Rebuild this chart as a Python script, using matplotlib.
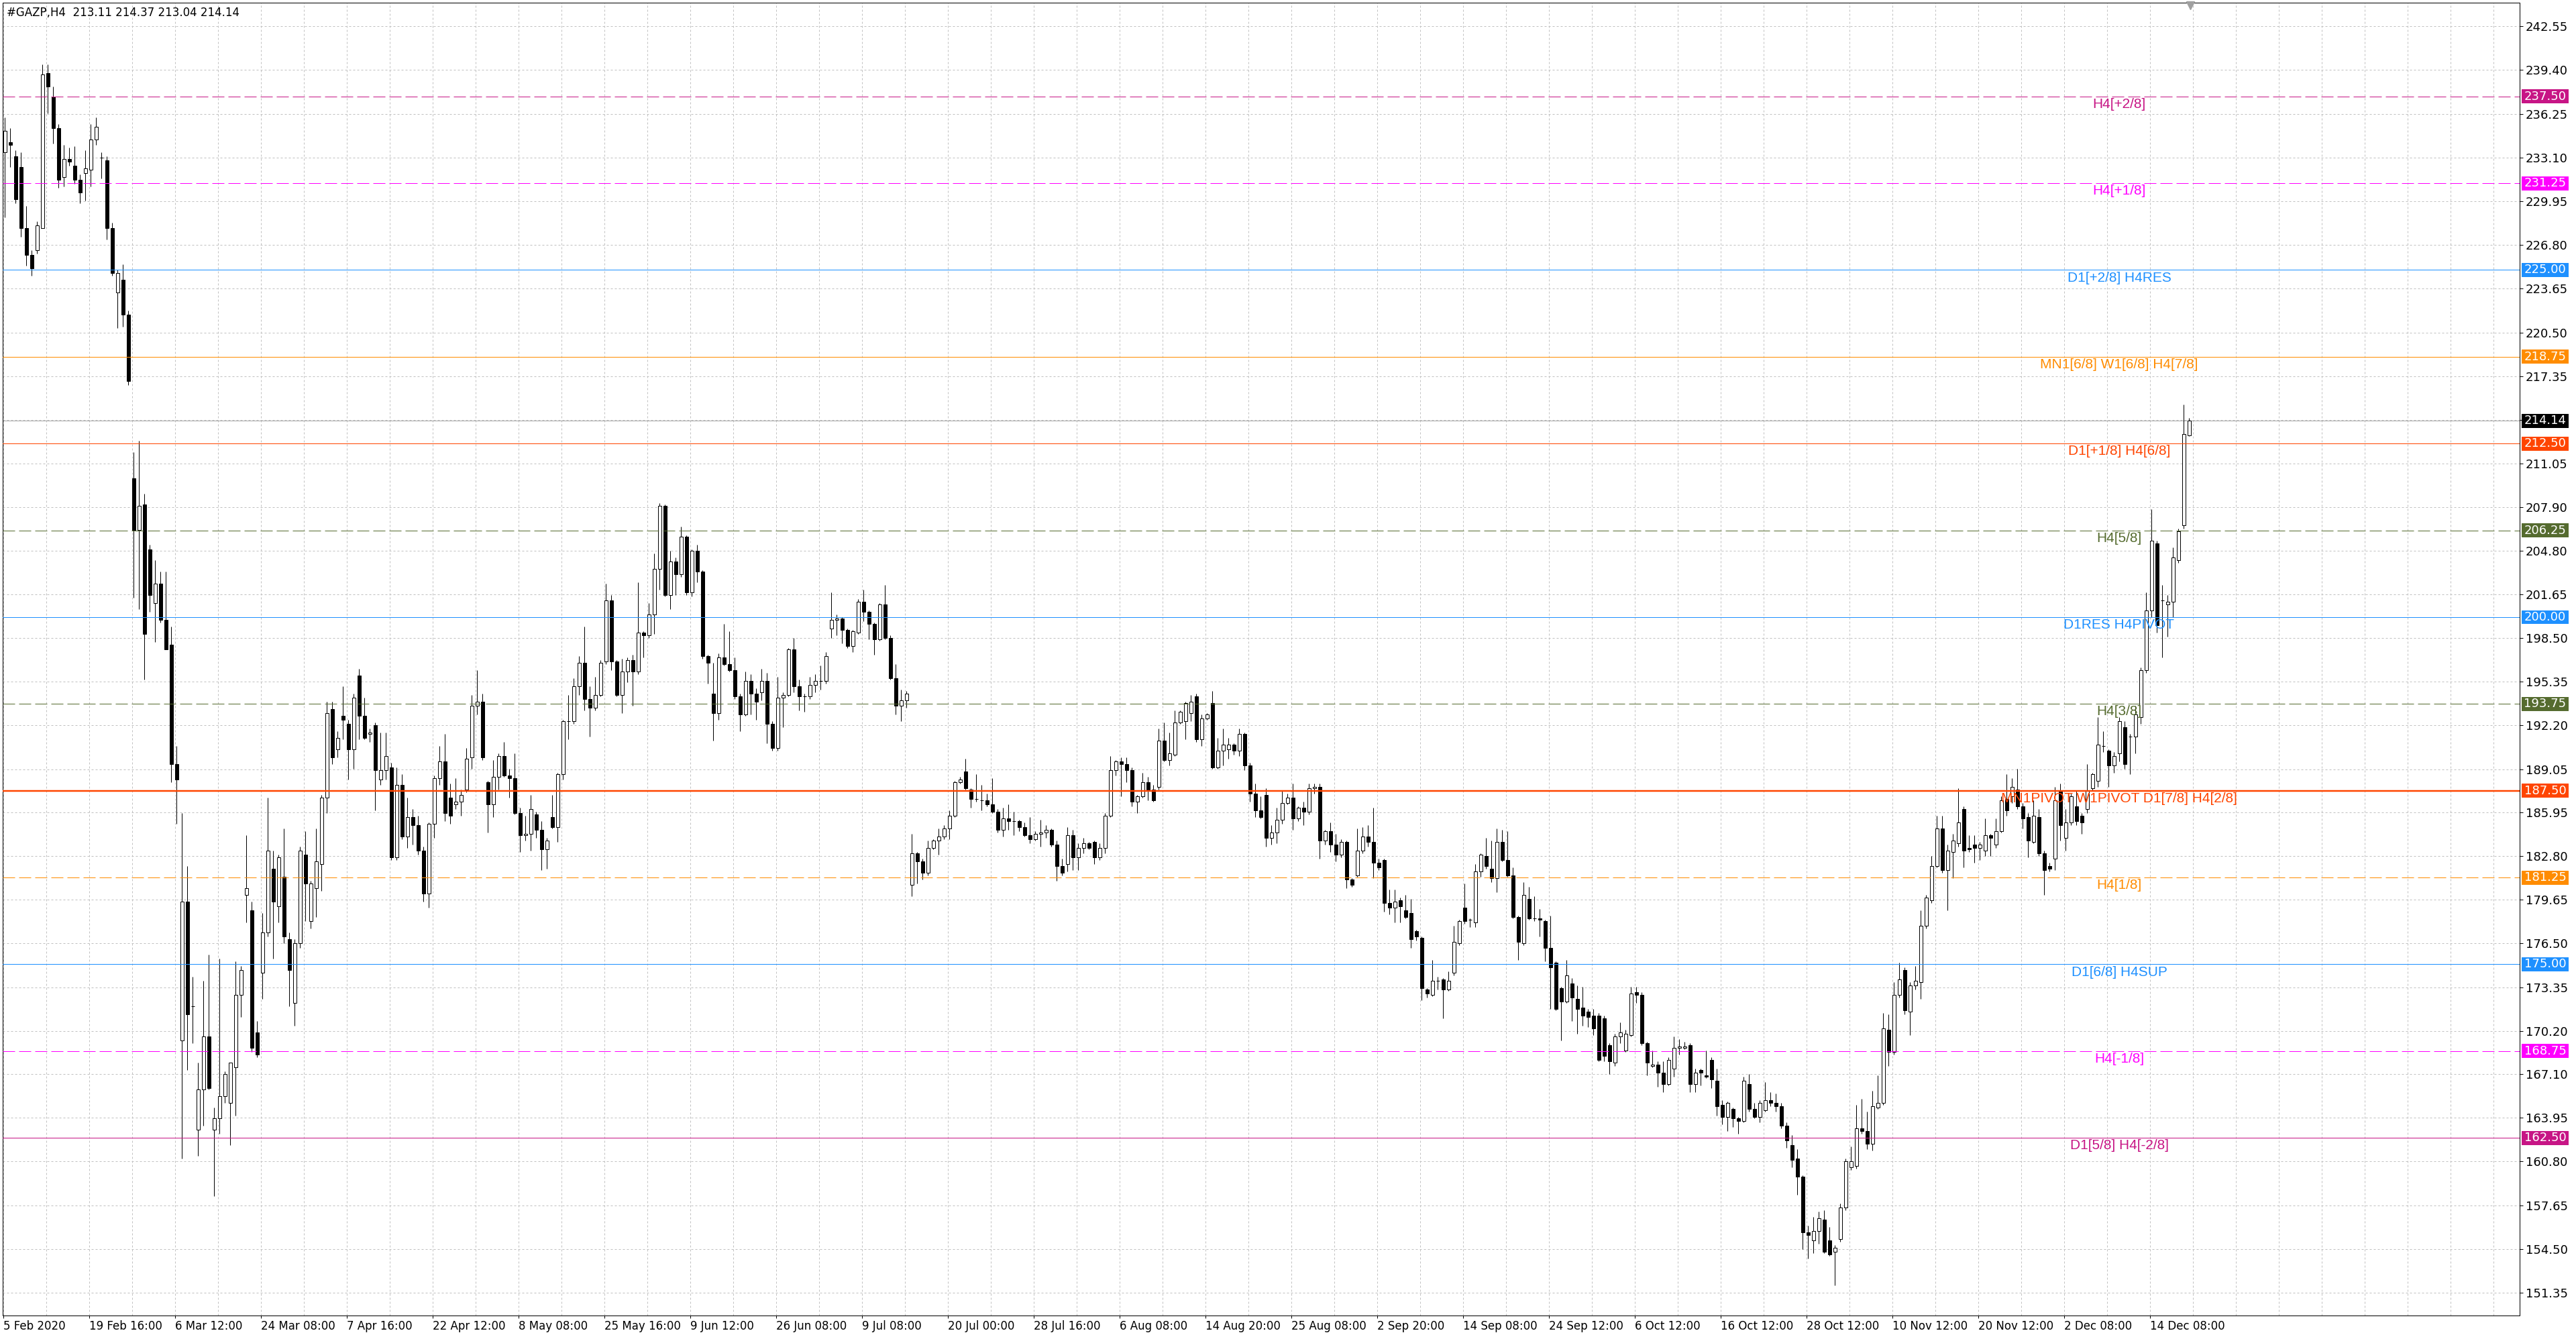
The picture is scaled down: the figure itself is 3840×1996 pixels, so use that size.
import numpy as np
import matplotlib
matplotlib.use("Agg")
import matplotlib.pyplot as plt
from matplotlib import transforms
from matplotlib.patches import Rectangle

# #GAZP H4, 5 Feb 2020 - 18 Dec 2020
# every candle below joins two H4 bars
opens = [
    233.5, 234.2, 233.2, 232.4, 228.0, 226.1, 226.4, 228.0, 239.2, 237.5,
    235.2, 231.7, 233.0, 232.5, 231.5, 232.0, 232.2, 234.4, 233.1, 232.9,
    228.0, 223.4, 224.3, 221.8, 210.0, 206.3, 208.1, 204.9, 201.0, 202.4,
    199.8, 198.0, 189.4, 169.5, 179.5, 172.0, 163.1, 166.0, 169.8, 163.1,
    163.9, 165.5, 165.0, 167.6, 172.8, 180.0, 178.9, 170.1, 174.4, 177.3,
    181.9, 179.2, 181.3, 176.8, 172.2, 176.5, 182.9, 178.1, 180.5, 182.2,
    187.0, 193.4, 190.5, 192.9, 192.3, 190.5, 195.8, 192.9, 191.6, 192.2,
    188.3, 189.0, 189.2, 182.7, 187.9, 184.2, 185.6, 185.0, 183.2, 180.1,
    185.1, 188.4, 189.6, 187.0, 186.5, 186.7, 187.6, 189.9, 193.6, 193.9,
    188.1, 186.5, 188.5, 190.0, 188.6, 188.4, 185.9, 184.3, 184.4, 185.8,
    184.7, 183.3, 185.6, 184.9, 188.7, 192.5, 192.5, 195.0, 196.7, 194.1,
    193.5, 194.4, 196.8, 201.2, 196.8, 194.4, 196.1, 196.9, 196.1, 198.9,
    198.7, 200.2, 203.5, 208.0, 201.6, 204.0, 203.1, 205.8, 201.8, 204.8,
    203.3, 197.2, 194.5, 193.1, 197.1, 196.6, 196.2, 194.3, 193.0, 195.4,
    194.5, 194.6, 195.4, 192.3, 190.6, 194.2, 194.4, 197.7, 195.0, 194.3,
    194.3, 195.1, 195.4, 195.4, 199.2, 199.8, 199.9, 199.1, 197.9, 198.9,
    201.1, 200.4, 199.5, 198.4, 200.9, 198.5, 195.6, 193.6, 194.0, 180.7,
    183.0, 182.4, 181.6, 183.4, 183.9, 184.2, 184.8, 185.7, 188.1, 188.9,
    187.6, 186.9, 186.8, 186.8, 186.5, 186.0, 184.7, 185.5, 185.3, 185.3,
    184.9, 184.3, 184.0, 184.4, 184.5, 184.7, 183.6, 182.1, 182.2, 184.3,
    182.7, 183.4, 183.7, 183.8, 182.7, 183.4, 185.7, 189.0, 189.6, 189.4,
    189.0, 186.7, 187.1, 188.1, 187.6, 187.8, 191.1, 189.7, 190.1, 192.4,
    192.5, 193.1, 194.3, 191.2, 192.7, 193.8, 189.2, 190.4, 190.5, 190.8,
    190.4, 191.6, 189.3, 187.3, 186.1, 187.2, 184.1, 184.5, 185.4, 186.6,
    187.0, 185.5, 186.3, 186.0, 187.7, 187.8, 183.9, 184.6, 183.6, 182.9,
    183.8, 181.1, 181.4, 183.2, 184.2, 183.8, 182.3, 182.5, 179.4, 179.1,
    179.6, 178.9, 178.7, 177.4, 176.9, 173.2, 172.8, 173.8, 173.9, 173.2,
    174.4, 176.5, 179.1, 178.2, 178.0, 181.7, 182.8, 181.9, 181.2, 183.8,
    182.5, 181.4, 178.4, 176.5, 179.7, 178.3, 178.3, 178.1, 176.2, 175.1,
    173.3, 172.3, 173.6, 172.5, 171.9, 171.6, 171.3, 171.3, 171.1, 169.2,
    167.9, 169.8, 168.8, 169.9, 173.0, 172.8, 169.3, 167.7, 167.8, 167.2,
    166.4, 167.5, 169.0, 169.0, 169.2, 166.4, 167.4, 167.0, 168.1, 166.6,
    164.9, 164.0, 164.6, 163.9, 163.7, 166.4, 164.6, 164.0, 164.5, 165.2,
    165.0, 164.8, 163.4, 162.0, 161.0, 159.7, 155.7, 155.1, 155.8, 156.6,
    155.1, 154.3, 155.2, 157.5, 160.4, 160.5, 163.2, 163.0, 162.1, 164.7,
    165.0, 170.3, 168.7, 172.8, 174.6, 171.6, 173.5, 173.7, 177.8, 179.6,
    182.1, 184.8, 181.8, 183.1, 183.7, 186.2, 183.4, 183.6, 183.4, 183.2,
    184.3, 183.6, 184.6, 186.9, 187.1, 187.6, 186.4, 185.6, 183.8, 185.6,
    183.0, 182.1, 182.6, 187.5, 184.1, 185.2, 186.4, 185.7, 186.2, 187.7,
    188.2, 190.7, 190.4, 189.3, 190.2, 192.1, 191.4, 191.4, 192.8, 196.2,
    200.5, 205.3, 201.2, 200.9, 201.1, 204.1, 206.6, 213.11,
]
highs = [
    236.0, 235.2, 233.6, 233.5, 229.6, 226.4, 228.5, 239.8, 239.8, 238.2,
    235.5, 234.0, 233.8, 233.9, 231.9, 233.6, 235.5, 236.0, 233.5, 233.2,
    228.4, 225.0, 225.4, 222.1, 211.9, 212.7, 208.9, 205.2, 204.1, 203.3,
    203.3, 199.3, 190.7, 185.9, 182.1, 174.1, 167.9, 173.8, 175.7, 164.7,
    175.4, 167.3, 167.9, 175.2, 174.9, 184.3, 179.5, 170.9, 178.7, 187.0,
    183.2, 182.9, 184.8, 177.3, 176.8, 183.5, 184.6, 181.0, 184.8, 187.2,
    193.9, 193.9, 191.8, 195.0, 192.6, 194.5, 196.3, 194.2, 192.0, 192.4,
    191.7, 191.7, 189.5, 189.2, 188.7, 187.0, 186.2, 185.7, 183.5, 185.2,
    188.6, 190.7, 191.6, 188.0, 188.4, 187.6, 190.6, 194.4, 196.2, 194.5,
    188.2, 189.7, 190.2, 191.0, 189.1, 190.2, 186.3, 185.7, 187.2, 186.0,
    185.3, 184.1, 187.2, 188.8, 192.6, 194.4, 195.6, 197.2, 199.3, 195.0,
    195.7, 196.9, 202.4, 201.6, 196.9, 197.0, 197.1, 197.3, 202.5, 199.0,
    201.0, 204.6, 208.2, 208.1, 204.8, 204.3, 206.5, 205.9, 204.9, 205.2,
    203.4, 197.3, 196.7, 197.4, 199.5, 199.0, 197.1, 194.5, 196.1, 195.9,
    194.9, 196.3, 196.0, 192.5, 195.7, 194.6, 197.8, 198.5, 195.5, 194.5,
    195.7, 195.9, 196.5, 197.5, 201.8, 200.2, 200.0, 199.2, 199.1, 201.3,
    202.0, 200.5, 199.6, 201.0, 202.3, 198.7, 196.6, 194.8, 194.7, 184.4,
    183.1, 182.6, 183.9, 184.0, 184.8, 185.0, 186.1, 188.2, 188.5, 189.8,
    187.7, 188.7, 187.9, 187.3, 188.4, 186.2, 186.3, 186.5, 186.0, 185.4,
    185.2, 185.6, 184.6, 185.4, 185.0, 184.8, 183.9, 182.6, 184.9, 184.7,
    183.7, 184.1, 183.8, 183.9, 183.7, 185.9, 190.0, 189.7, 189.9, 189.9,
    189.2, 187.2, 188.8, 188.5, 187.9, 192.0, 192.4, 191.7, 193.3, 193.3,
    193.9, 194.4, 194.5, 193.0, 193.1, 194.7, 191.3, 192.0, 191.3, 190.9,
    192.0, 191.7, 189.5, 188.0, 187.1, 187.7, 185.0, 186.3, 187.5, 187.3,
    188.0, 186.4, 186.7, 188.0, 188.0, 188.0, 184.7, 185.2, 184.4, 184.0,
    183.9, 181.2, 184.8, 184.9, 185.0, 186.3, 182.6, 182.6, 180.4, 180.4,
    179.8, 180.0, 179.7, 177.5, 177.0, 173.3, 175.3, 174.1, 174.0, 174.5,
    177.8, 178.2, 180.8, 178.3, 182.2, 183.0, 184.1, 183.9, 184.8, 184.7,
    184.6, 182.0, 178.5, 180.9, 180.6, 179.9, 179.0, 178.2, 178.5, 175.2,
    173.4, 175.3, 174.0, 173.5, 173.4, 171.8, 171.8, 171.5, 171.3, 169.3,
    170.0, 170.8, 170.3, 173.4, 173.4, 173.0, 169.4, 168.8, 168.0, 168.0,
    168.3, 169.8, 169.6, 169.4, 169.3, 167.5, 167.5, 168.8, 168.3, 167.5,
    165.2, 165.1, 164.7, 164.0, 166.9, 167.1, 165.0, 165.2, 166.5, 165.8,
    165.7, 165.0, 163.6, 162.7, 161.7, 159.8, 156.2, 156.8, 157.2, 157.3,
    156.1, 154.8, 157.8, 161.0, 161.9, 164.9, 165.3, 164.4, 165.9, 167.0,
    171.5, 171.4, 173.7, 175.1, 174.8, 173.7, 174.9, 178.9, 180.0, 182.8,
    185.7, 185.7, 183.6, 184.4, 187.7, 186.4, 184.3, 184.3, 183.8, 185.5,
    184.4, 185.5, 187.1, 188.7, 188.4, 189.1, 186.6, 185.9, 186.8, 186.2,
    183.2, 182.3, 187.8, 188.0, 186.2, 187.3, 187.5, 185.9, 189.4, 188.8,
    192.8, 191.8, 190.5, 190.3, 192.8, 192.5, 191.6, 193.6, 196.4, 201.8,
    207.8, 205.5, 202.3, 201.6, 205.0, 206.4, 215.3, 214.37,
]
lows = [
    228.8, 232.4, 229.8, 227.4, 225.3, 224.6, 226.2, 228.0, 236.3, 234.1,
    230.9, 231.0, 232.5, 231.2, 229.8, 230.0, 231.0, 234.0, 231.6, 227.2,
    224.6, 220.8, 220.9, 216.7, 201.4, 200.6, 195.5, 200.4, 198.2, 199.6,
    197.7, 188.1, 185.1, 161.0, 167.4, 169.3, 161.2, 163.4, 166.0, 158.3,
    162.8, 165.0, 162.0, 164.1, 171.2, 178.0, 168.7, 168.3, 172.5, 177.0,
    175.4, 178.0, 176.5, 172.0, 170.6, 176.2, 178.1, 177.6, 178.4, 180.3,
    185.9, 189.4, 189.9, 191.2, 188.3, 189.1, 191.2, 191.2, 191.0, 186.1,
    187.9, 188.3, 182.5, 182.5, 184.0, 183.4, 183.6, 182.9, 179.5, 179.1,
    184.1, 187.9, 185.3, 185.1, 186.2, 185.7, 187.4, 189.1, 193.0, 189.7,
    184.5, 185.6, 187.6, 188.5, 187.0, 185.8, 183.1, 183.9, 183.2, 184.1,
    181.8, 181.9, 184.8, 183.8, 188.3, 191.2, 192.3, 194.4, 193.3, 191.4,
    193.3, 194.3, 196.6, 196.2, 194.3, 193.1, 195.3, 193.6, 195.9, 197.1,
    198.5, 198.8, 202.0, 201.5, 200.6, 201.6, 202.9, 201.6, 201.5, 202.5,
    197.0, 195.2, 191.1, 192.6, 196.5, 196.1, 194.1, 191.8, 192.9, 193.0,
    192.6, 194.0, 190.9, 190.4, 190.4, 192.1, 194.3, 194.6, 193.3, 193.2,
    194.1, 194.6, 194.8, 195.2, 198.5, 198.7, 198.1, 197.8, 197.5, 198.8,
    199.7, 198.4, 197.3, 198.3, 198.4, 195.5, 193.0, 192.5, 193.5, 179.9,
    180.8, 181.1, 181.4, 183.3, 182.9, 184.0, 184.0, 185.6, 188.0, 187.6,
    186.3, 186.7, 186.1, 186.4, 185.9, 184.5, 184.2, 184.7, 184.3, 184.6,
    184.2, 183.7, 183.9, 183.5, 184.1, 183.5, 181.0, 181.4, 181.7, 181.8,
    181.8, 183.0, 183.3, 182.2, 182.5, 183.0, 185.6, 188.6, 187.1, 188.1,
    186.4, 185.9, 187.0, 186.8, 186.7, 187.6, 189.6, 189.3, 190.0, 192.3,
    191.2, 192.5, 191.0, 190.7, 192.6, 189.1, 189.1, 189.3, 189.8, 190.1,
    190.0, 189.0, 186.7, 185.6, 185.5, 183.5, 183.6, 183.7, 185.1, 186.5,
    184.7, 185.3, 185.0, 185.8, 187.3, 182.6, 183.6, 183.1, 182.4, 182.7,
    180.5, 180.6, 181.3, 183.0, 183.5, 181.2, 181.8, 178.8, 178.6, 178.0,
    178.0, 178.3, 176.2, 176.7, 172.4, 172.6, 172.7, 173.2, 171.1, 173.1,
    174.2, 176.4, 177.9, 177.7, 177.7, 181.3, 181.9, 180.9, 180.2, 182.4,
    181.3, 178.3, 175.3, 176.4, 178.2, 178.1, 177.0, 175.2, 171.8, 171.7,
    169.5, 172.2, 170.9, 170.0, 170.6, 170.5, 169.9, 168.0, 168.0, 167.1,
    167.7, 169.3, 168.7, 169.8, 172.2, 169.2, 167.0, 167.6, 166.2, 165.8,
    166.3, 166.9, 168.5, 168.9, 165.8, 165.8, 166.3, 166.8, 166.1, 164.1,
    163.5, 163.0, 163.3, 162.8, 163.6, 164.4, 163.9, 163.6, 164.4, 164.8,
    164.4, 163.2, 161.8, 160.4, 158.4, 154.5, 153.8, 154.2, 154.9, 154.2,
    154.0, 151.9, 155.0, 157.3, 160.2, 160.3, 162.8, 161.7, 161.6, 164.6,
    164.9, 167.7, 168.5, 172.6, 171.4, 169.9, 173.2, 172.5, 177.6, 179.4,
    182.0, 181.6, 178.9, 181.2, 183.5, 182.0, 183.1, 182.3, 182.5, 182.8,
    182.8, 183.4, 184.5, 185.7, 186.6, 186.2, 184.8, 182.7, 183.7, 182.8,
    180.0, 181.7, 181.8, 183.9, 183.2, 185.0, 185.0, 184.4, 185.9, 187.5,
    187.8, 190.3, 187.8, 188.8, 189.6, 189.1, 188.7, 190.2, 192.3, 196.0,
    200.0, 198.9, 197.1, 198.6, 200.0, 203.9, 206.4, 213.04,
]
closes = [
    235.0, 234.0, 230.1, 228.0, 226.1, 225.1, 228.2, 239.1, 238.2, 235.2,
    231.5, 233.0, 232.8, 231.5, 230.6, 232.3, 234.4, 235.3, 233.1, 228.0,
    224.8, 224.8, 221.8, 217.0, 206.3, 208.0, 198.8, 201.6, 202.4, 199.8,
    197.7, 189.4, 188.3, 179.5, 171.4, 172.0, 166.0, 169.8, 166.1, 163.9,
    165.5, 167.1, 167.9, 172.8, 174.6, 180.5, 169.0, 168.5, 177.3, 183.2,
    179.5, 182.7, 177.0, 174.6, 176.5, 183.2, 180.8, 180.8, 182.4, 187.0,
    193.1, 189.9, 191.3, 192.6, 190.5, 194.2, 192.9, 191.3, 191.7, 189.0,
    189.0, 190.0, 182.7, 187.9, 184.2, 185.6, 185.0, 183.2, 180.1, 185.1,
    188.4, 189.6, 185.9, 185.7, 186.7, 187.2, 189.8, 193.6, 193.9, 189.9,
    186.5, 188.5, 190.0, 188.6, 188.4, 185.9, 184.3, 184.4, 186.2, 184.7,
    183.3, 183.9, 184.9, 188.7, 192.5, 192.5, 195.0, 196.7, 194.1, 193.5,
    194.4, 196.7, 201.2, 196.8, 194.4, 196.1, 196.9, 196.1, 198.9, 198.7,
    200.2, 203.5, 208.0, 201.6, 204.0, 203.1, 205.8, 201.8, 204.8, 203.3,
    197.2, 196.7, 193.1, 197.1, 196.6, 196.2, 194.3, 193.0, 195.4, 194.5,
    193.9, 195.4, 192.3, 190.6, 194.2, 194.4, 197.7, 195.0, 194.3, 194.3,
    195.1, 195.4, 195.4, 197.2, 199.8, 199.9, 199.1, 197.9, 199.0, 201.1,
    200.4, 199.5, 198.4, 200.9, 198.5, 195.6, 193.6, 194.0, 194.5, 183.0,
    182.4, 181.6, 183.4, 183.9, 184.2, 184.8, 185.7, 188.1, 188.3, 187.7,
    186.9, 186.9, 186.8, 186.5, 186.0, 184.7, 185.5, 185.3, 185.3, 184.9,
    184.3, 184.0, 184.4, 184.5, 184.7, 183.6, 182.1, 181.6, 184.3, 182.7,
    183.4, 183.7, 183.4, 182.7, 183.4, 185.7, 189.0, 189.6, 189.4, 189.0,
    186.7, 187.1, 188.1, 187.6, 186.8, 191.1, 189.7, 190.2, 192.4, 193.2,
    193.8, 193.9, 191.2, 192.7, 193.0, 189.2, 190.4, 190.8, 190.8, 190.4,
    191.6, 189.3, 187.3, 186.1, 185.6, 184.1, 184.5, 185.4, 186.6, 187.0,
    185.5, 186.3, 186.0, 187.7, 187.8, 183.9, 184.6, 183.6, 182.9, 183.8,
    181.1, 180.7, 183.2, 184.2, 183.8, 182.3, 182.0, 179.4, 179.1, 179.5,
    179.2, 178.4, 176.8, 177.0, 173.3, 172.9, 173.8, 173.8, 173.2, 173.8,
    176.6, 178.1, 178.1, 178.2, 181.7, 182.9, 182.1, 181.2, 183.8, 182.5,
    181.4, 178.4, 176.6, 180.0, 178.3, 178.3, 178.2, 176.2, 174.8, 171.8,
    172.3, 174.2, 172.6, 171.8, 171.3, 171.2, 170.4, 168.1, 168.4, 168.0,
    169.8, 170.1, 170.0, 172.9, 172.8, 169.3, 167.9, 167.8, 167.2, 166.4,
    168.1, 169.0, 169.1, 169.1, 166.4, 167.2, 167.2, 166.9, 166.7, 164.8,
    164.0, 165.0, 163.9, 163.7, 166.6, 164.6, 164.0, 165.0, 165.2, 165.0,
    164.8, 163.4, 162.3, 160.9, 159.7, 155.7, 155.5, 155.8, 156.7, 154.3,
    154.1, 154.6, 157.5, 160.8, 160.8, 163.2, 163.0, 162.1, 164.8, 165.0,
    170.4, 168.7, 172.8, 173.9, 171.7, 173.5, 173.8, 177.8, 179.8, 182.1,
    184.8, 181.8, 183.2, 183.9, 185.2, 183.2, 183.3, 183.4, 183.6, 184.3,
    184.1, 184.6, 186.8, 186.1, 187.8, 186.4, 185.5, 183.9, 185.7, 183.0,
    181.8, 181.9, 186.8, 185.0, 185.2, 187.1, 185.3, 185.2, 187.5, 188.7,
    190.8, 190.7, 189.3, 190.0, 192.5, 189.4, 191.4, 193.0, 196.2, 200.5,
    205.5, 199.4, 201.2, 201.1, 204.3, 206.2, 213.2, 214.14,
]

# time axis: one label every 32 H4 bars
time_labels = [
    "5 Feb 2020", "19 Feb 16:00", "6 Mar 12:00", "24 Mar 08:00", "7 Apr 16:00",
    "22 Apr 12:00", "8 May 08:00", "25 May 16:00", "9 Jun 12:00", "26 Jun 08:00",
    "9 Jul 08:00", "20 Jul 00:00", "28 Jul 16:00", "6 Aug 08:00", "14 Aug 20:00",
    "25 Aug 08:00", "2 Sep 20:00", "14 Sep 08:00", "24 Sep 12:00", "6 Oct 12:00",
    "16 Oct 12:00", "28 Oct 12:00", "10 Nov 12:00", "20 Nov 12:00", "2 Dec 08:00",
    "14 Dec 08:00",
]
price_ticks = [
    242.55, 239.40, 236.25, 233.10, 229.95, 226.80, 223.65, 220.50, 217.35, 214.20,
    211.05, 207.90, 204.80, 201.65, 198.50, 195.35, 192.20, 189.05, 185.95, 182.80,
    179.65, 176.50, 173.35, 170.20, 167.10, 163.95, 160.80, 157.65, 154.50, 151.35,
]

# Murrey / pivot levels drawn on the chart
level_prices = [237.50, 231.25, 225.00, 218.75, 212.50, 206.25, 200.00,
                193.75, 187.50, 181.25, 175.00, 168.75, 162.50]
level_names = ["H4[+2/8]", "H4[+1/8]", "D1[+2/8] H4RES", "MN1[6/8] W1[6/8] H4[7/8]",
               "D1[+1/8] H4[6/8]", "H4[5/8]", "D1RES H4PIVOT", "H4[3/8]",
               "MN1PIVOT W1PIVOT D1[7/8] H4[2/8]", "H4[1/8]", "D1[6/8] H4SUP",
               "H4[-1/8]", "D1[5/8] H4[-2/8]"]
level_colors = ["#C71585", "#FF00FF", "#1E90FF", "#FF8C00", "#FF4500", "#556B2F", "#1E90FF",
                "#556B2F", "#FF4500", "#FF8C00", "#1E90FF", "#FF00FF", "#C71585"]
level_dashed = [True, True, False, False, False, True, False,
                True, False, True, False, True, False]
last_price = 214.14
header = "#GAZP,H4  213.11 214.37 213.04 214.14"

PX = 0.72  # one screen pixel in points (dpi 100)

o = np.array(opens)
h = np.array(highs)
l = np.array(lows)
c = np.array(closes)
x = np.arange(len(o)) * 2 + 0.5   # position in H4 bars

fig = plt.figure(figsize=(38.4, 19.96), dpi=100)
fig.patch.set_facecolor("white")
ax = fig.add_axes([4 / 3840, 35 / 1996, 3752 / 3840, 1957 / 1996])
ax.set_xlim(-0.25, 937.75)
ax.set_ylim(149.71, 244.25)
ax.set_axisbelow(True)

# grid
for gx in np.arange(0, 938, 16):
    ax.axvline(gx, color="#c0c0c0", lw=PX, ls=(0, (3, 3)), zorder=0.5)
for gy in price_ticks:
    ax.axhline(gy, color="#c0c0c0", lw=PX, ls=(0, (3, 3)), zorder=0.5)

# candles
up = c >= o
ax.vlines(x, l, h, color="black", lw=PX, zorder=2)
ax.bar(x[up], (c - o)[up], bottom=o[up], width=1.25, color="white",
       edgecolor="black", linewidth=PX, zorder=3)
ax.bar(x[~up], (o - c)[~up], bottom=c[~up], width=1.25, color="black",
       edgecolor="black", linewidth=PX, zorder=3)

# levels
right = transforms.blended_transform_factory(ax.transAxes, ax.transData)
for p, name, col, dashed in zip(level_prices, level_names, level_colors, level_dashed):
    lw = 2.5 * PX if p == 187.50 else PX
    ax.axhline(p, color=col, lw=lw, ls=(0, (18, 6)) if dashed else "-", zorder=4)
    ax.annotate(name, xy=(788.5, p), xytext=(0, -1.5), textcoords="offset points",
                ha="center", va="top", color=col, fontsize=15,
                family=["Liberation Sans", "DejaVu Sans"], zorder=5)
    ax.add_patch(Rectangle((1 + 3 / 3752, p - 0.505), 70 / 3752, 1.01, transform=right,
                           facecolor=col, edgecolor="none", clip_on=False, zorder=6))
    ax.text(1 + 38 / 3752, p, f"{p:.2f}", transform=right, ha="center", va="center",
            color="white", fontsize=13, clip_on=False, zorder=7)

# last price
ax.axhline(last_price, color="#a9a9a9", lw=PX, zorder=1.5)
ax.add_patch(Rectangle((1 + 3 / 3752, last_price - 0.505), 70 / 3752, 1.01, transform=right,
                       facecolor="black", edgecolor="none", clip_on=False, zorder=6))
ax.text(1 + 38 / 3752, last_price, f"{last_price:.2f}", transform=right, ha="center",
        va="center", color="white", fontsize=13, clip_on=False, zorder=7)

# chart shift marker
top = transforms.blended_transform_factory(ax.transData, ax.transAxes)
ax.plot([815], [0.9982], marker="v", ms=9, color="#a0a0a0", transform=top,
        clip_on=False, zorder=8)

# axes
ax.yaxis.tick_right()
ax.set_yticks(price_ticks)
ax.set_yticklabels([f"{v:.2f}" for v in price_ticks])
ax.tick_params(axis="y", length=5 * PX, width=PX, pad=4 * PX, labelsize=13, direction="out")
ax.set_xticks(np.arange(0, 801, 32))
ax.set_xticklabels(time_labels, ha="left")
ax.tick_params(axis="x", length=4 * PX, width=PX, pad=3 * PX, labelsize=12, direction="out")
for s in ax.spines.values():
    s.set_linewidth(PX)
    s.set_color("black")

fig.text(10 / 3840, 1 - 19 / 1996, header, ha="left", va="center", fontsize=12)

fig.savefig("out.png", dpi=100, facecolor="white")
